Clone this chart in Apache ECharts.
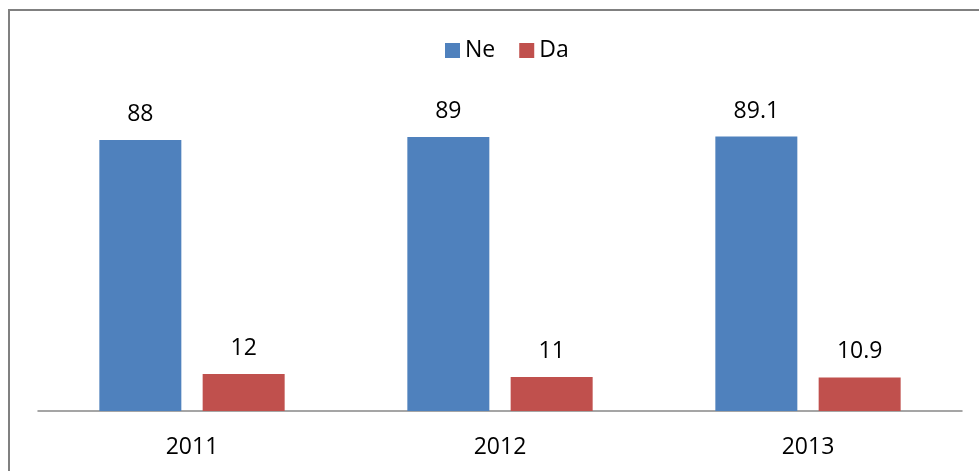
<!DOCTYPE html>
<html>
<head>
<meta charset="utf-8">
<script src="https://cdn.jsdelivr.net/npm/echarts@6/dist/echarts.min.js"></script>
<style>
  html, body { margin: 0; padding: 0; background: #fff; }
  #chart { width: 979px; height: 471px; }
</style>
</head>
<body>
<div id="chart"></div>
<script>
// chart data
const years = ['2011', '2012', '2013']
const ne = [88, 89, 89.1]
const da = [12, 11, 10.9]

const chart = echarts.init(document.getElementById('chart'))
const font = 'Open Sans'

chart.setOption({
  animation: false,
  textStyle: { fontFamily: font },
  // outer frame (only top and left edges visible in the original)
  graphic: [{
    type: 'polyline',
    shape: { points: [[9, 480], [9, 10], [990, 10]] },
    style: { stroke: '#808080', lineWidth: 2, fill: null }
  }],
  legend: {
    top: 34,
    left: 440,
    itemWidth: 15,
    itemHeight: 15,
    itemGap: 24,
    icon: 'rect',
    textStyle: { fontSize: 23, color: '#000', fontFamily: font },
    data: ['Ne', 'Da']
  },
  grid: {
    left: 38,
    right: 17,
    top: 103,
    bottom: 60
  },
  xAxis: {
    type: 'category',
    data: years,
    axisLine: { lineStyle: { color: '#888', width: 1.5 } },
    axisTick: { show: false },
    axisLabel: { fontSize: 23, color: '#000', margin: 25, fontFamily: font }
  },
  yAxis: {
    type: 'value',
    min: 0,
    max: 100,
    show: false,
    splitLine: { show: false }
  },
  series: [
    {
      name: 'Ne',
      type: 'bar',
      data: ne,
      barWidth: 82,
      barGap: '26%',
      itemStyle: { color: '#4F81BD' },
      label: { show: true, position: 'top', distance: 14, fontSize: 23, color: '#000', fontFamily: font }
    },
    {
      name: 'Da',
      type: 'bar',
      data: da,
      barWidth: 82,
      barGap: '26%',
      itemStyle: { color: '#C0504D' },
      label: { show: true, position: 'top', distance: 14, fontSize: 23, color: '#000', fontFamily: font }
    }
  ]
})
</script>
</body>
</html>
